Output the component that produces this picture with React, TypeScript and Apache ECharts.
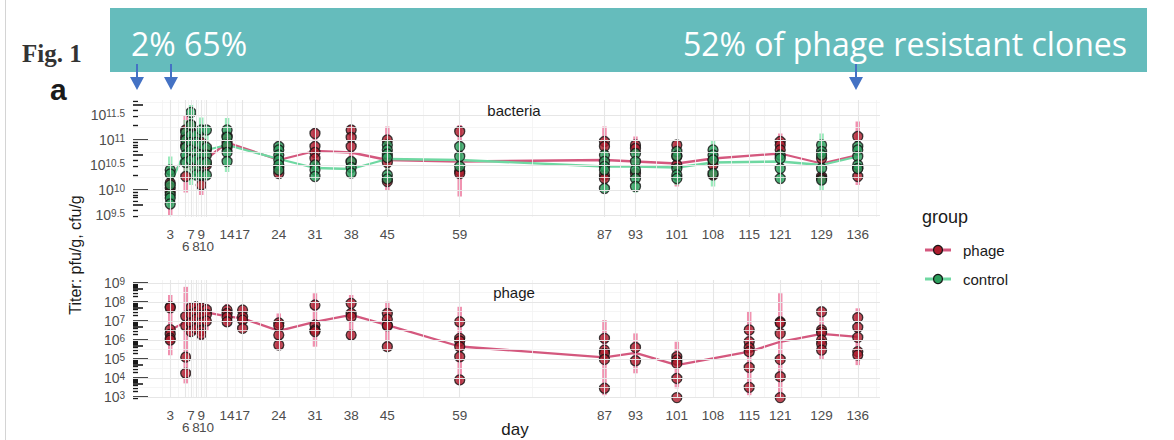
import React, { useEffect, useRef } from "react";
import * as echarts from "echarts";

// ---------- axis breaks / tick labels ----------
const dayBreaks = [3, 6, 7, 8, 9, 10, 14, 17, 24, 31, 38, 45, 59, 87, 93, 101, 108, 115, 121, 129, 136];
const secondRowDays = [6, 8, 10];
const bacteriaTickLabels = [9.5, 10, 10.5, 11, 11.5];
const phageTickLabels = [3, 4, 5, 6, 7, 8, 9];

// ---------- bacteria panel (log10 cfu/g) : individual samples ----------
const bacteriaPhagePoints: [number, number[]][] = [
  [3, [10.14, 10.04, 9.95]],
  [6, [11.2, 11.05, 10.9, 10.27]],
  [7, [11.3, 11.15, 10.95, 10.75]],
  [8, [11.0, 10.85, 10.5]],
  [9, [10.95, 10.6, 10.1]],
  [10, [10.8, 10.5]],
  [14, [11.07, 10.95, 10.85]],
  [24, [10.45, 10.33]],
  [31, [11.13, 10.87, 10.75, 10.63]],
  [38, [11.2, 11.05, 10.87, 10.55]],
  [45, [11.0, 10.55, 10.17]],
  [59, [11.17, 10.38, 10.33]],
  [87, [10.97, 10.87, 10.3, 10.23]],
  [93, [10.9, 10.83, 10.33]],
  [101, [10.9, 10.67, 10.5]],
  [108, [10.6, 10.5, 10.3]],
  [121, [10.97, 10.9, 10.8]],
  [129, [10.63, 10.27, 10.23]],
  [136, [11.07, 10.43, 10.27]],
];
const bacteriaControlPoints: [number, number[]][] = [
  [3, [10.4, 10.32, 10.1, 9.9, 9.84, 9.72]],
  [6, [11.15, 11.0, 10.85, 10.7, 10.55]],
  [7, [11.55, 11.3, 11.1, 10.95, 10.8, 10.6]],
  [8, [11.1, 10.95, 10.75, 10.6, 10.4, 10.3]],
  [9, [11.2, 10.9, 10.7, 10.55, 10.3]],
  [10, [11.2, 10.85, 10.7, 10.55, 10.3]],
  [14, [11.2, 11.05, 10.9, 10.75, 10.57]],
  [24, [10.87, 10.8, 10.7, 10.6, 10.5, 10.4]],
  [31, [10.5, 10.4, 10.27]],
  [38, [10.57, 10.45, 10.34]],
  [45, [10.9, 10.8, 10.72, 10.65, 10.3, 10.22]],
  [59, [10.87, 10.67, 10.47]],
  [87, [10.7, 10.57, 10.47, 10.4, 10.03]],
  [93, [10.73, 10.57, 10.4, 10.23, 10.07]],
  [101, [10.77, 10.68, 10.43, 10.3, 10.23]],
  [108, [10.8, 10.7, 10.6, 10.33]],
  [121, [10.7, 10.63, 10.43, 10.23]],
  [129, [10.9, 10.77, 10.7, 10.43, 10.2]],
  [136, [10.87, 10.8, 10.67, 10.5, 10.43]],
];
const bacteriaPhageMean: [number, number][] = [
  [3, 10.22], [6, 10.7], [7, 10.9], [8, 10.8], [9, 10.6], [10, 10.62], [14, 10.95], [24, 10.6],
  [31, 10.78], [38, 10.75], [45, 10.6], [59, 10.57], [87, 10.6], [93, 10.57], [101, 10.53],
  [108, 10.63], [121, 10.73], [129, 10.53], [136, 10.7],
];
const bacteriaControlMean: [number, number][] = [
  [3, 10.12], [6, 10.8], [7, 11.0], [8, 10.75], [9, 10.7], [10, 10.8], [14, 10.9], [24, 10.62],
  [31, 10.44], [38, 10.42], [45, 10.62], [59, 10.6], [87, 10.47], [93, 10.47], [101, 10.45],
  [108, 10.55], [121, 10.57], [129, 10.5], [136, 10.67],
];
const bacteriaPhageRange: [number, number, number][] = [
  [3, 9.5, 10.5], [6, 9.95, 11.5], [7, 10.4, 11.4], [8, 10.3, 11.2], [9, 9.9, 11.1], [10, 10.3, 11.0],
  [14, 10.6, 11.2], [24, 10.24, 10.97], [31, 10.5, 11.24], [38, 10.45, 11.3], [45, 10.0, 11.27],
  [59, 9.87, 11.3], [87, 10.1, 11.27], [93, 10.3, 11.07], [101, 10.07, 11.0], [108, 10.2, 10.8],
  [121, 10.6, 11.13], [129, 10.1, 10.75], [136, 10.1, 11.37],
];
const bacteriaControlRange: [number, number, number][] = [
  [3, 9.65, 10.67], [6, 10.3, 11.4], [7, 10.1, 11.7], [8, 10.2, 11.2], [9, 10.0, 11.45], [10, 10.2, 11.3],
  [14, 10.36, 11.44], [24, 10.3, 10.95], [31, 10.2, 10.62], [38, 10.25, 10.65], [45, 10.15, 11.05],
  [59, 10.3, 10.95], [87, 10.0, 10.85], [93, 9.95, 10.85], [101, 10.1, 10.9], [108, 10.07, 11.0],
  [121, 10.15, 10.8], [129, 10.0, 11.13], [136, 10.3, 11.0],
];

// ---------- phage panel (log10 pfu/g) ----------
const phagePoints: [number, number[]][] = [
  [3, [7.75, 7.7, 6.55, 6.3, 6.1, 6.0]],
  [6, [7.25, 6.75, 5.1, 4.25]],
  [7, [7.7, 7.35, 6.9, 6.45]],
  [8, [7.75, 7.45, 7.1, 6.6]],
  [9, [7.7, 7.3, 6.9, 6.5, 6.3]],
  [10, [7.6, 7.35, 7.0]],
  [14, [7.58, 7.4, 7.2, 6.96]],
  [17, [7.58, 7.23, 7.05, 6.61]],
  [24, [6.9, 6.75, 6.26, 5.74]],
  [31, [7.84, 6.79, 6.53, 6.45]],
  [38, [7.93, 7.4, 7.23, 6.26]],
  [45, [7.4, 7.1, 6.79, 6.75, 5.65]],
  [59, [6.96, 6.09, 5.95, 5.65, 5.12, 3.9]],
  [87, [6.09, 5.47, 5.3, 4.98, 3.46]],
  [93, [5.61, 4.91]],
  [101, [5.12, 4.95, 4.77, 3.98, 2.97]],
  [115, [6.53, 5.91, 5.6, 5.39, 4.56, 3.51]],
  [121, [6.96, 6.9, 6.35, 4.98, 4.07, 2.97]],
  [129, [7.49, 6.53, 6.4, 6.0, 5.8, 5.47]],
  [136, [7.18, 6.67, 6.14, 5.39, 5.21]],
];
const phageMean: [number, number][] = [
  [3, 6.53], [6, 6.95], [7, 7.3], [8, 7.4], [9, 7.35], [10, 7.45], [14, 7.25], [17, 7.14], [24, 6.48],
  [31, 6.96], [38, 7.32], [45, 6.79], [59, 5.66], [87, 5.09], [93, 5.33], [101, 4.68], [115, 5.39],
  [121, 5.91], [129, 6.32], [136, 6.17],
];
const phageRange: [number, number, number][] = [
  [3, 5.2, 8.37], [6, 3.72, 8.8], [7, 6.2, 7.95], [8, 6.3, 8.0], [9, 6.0, 7.95], [10, 6.5, 7.9],
  [14, 6.7, 7.9], [17, 6.5, 7.75], [24, 5.47, 7.4], [31, 5.65, 8.46], [38, 6.0, 8.37], [45, 5.47, 8.02],
  [59, 3.63, 7.75], [87, 3.1, 7.05], [93, 4.25, 6.35], [101, 3.46, 5.91], [115, 3.1, 7.49],
  [121, 2.95, 8.46], [129, 4.95, 7.75], [136, 4.68, 7.67],
];

// ---------- styling ----------
const FONT = "'Liberation Sans', Arial, sans-serif";
const TEXT = "#1a1a1a";
const AXIS_TEXT = "#4d4d4d";
const PHAGE_FILL = "#ad1d2d";
const CONTROL_FILL = "#2c9e5c";
const PHAGE_LINE = "#d4587e";
const CONTROL_LINE = "#6fd8a2";
const PHAGE_BAR = "rgba(233, 76, 126, 0.62)";
const CONTROL_BAR = "rgba(90, 222, 145, 0.62)";

const X_MIN = -4.2;
const X_MAX = 140.3;
const TOP_MIN = 9.46;
const TOP_MAX = 11.8;
const BOT_MIN = 2.95;
const BOT_MAX = 9.16;

const flat = (g: [number, number[]][]) => g.flatMap(([d, vs]) => vs.map((v) => [d, v]));

const mids = (arr: number[]) => arr.slice(1).map((v, i) => (v + arr[i]) / 2);

function logTicks(min: number, max: number, ks: number[]) {
  const out: number[] = [];
  for (let n = Math.floor(min); n <= Math.ceil(max); n++) {
    for (const k of ks) {
      const v = n + Math.log10(k);
      if (v >= min && v <= max) out.push(v);
    }
  }
  return out;
}

export default function App() {
  const ref = useRef<HTMLDivElement>(null);

  useEffect(() => {
    if (!ref.current) return;
    const chart = echarts.init(ref.current, undefined, { renderer: "svg" });

    const xMinor = [dayBreaks[0] - 1.5, ...mids(dayBreaks), dayBreaks[dayBreaks.length - 1] + 3.5];
    const topMinorY = [...mids(bacteriaTickLabels), 11.75];
    const botMinorY = mids(phageTickLabels);

    const xAxisFor = (gridIndex: number) => ({
      type: "value",
      gridIndex,
      min: X_MIN,
      max: X_MAX,
      axisLine: { show: false, onZero: false },
      axisTick: { show: false },
      splitLine: { show: false },
      axisLabel: {
        customValues: dayBreaks,
        formatter: (v: number) => (secondRowDays.includes(v) ? "\n" + v : String(v)),
        margin: 11,
        fontSize: 13.5,
        lineHeight: 12,
        color: AXIS_TEXT,
        fontFamily: FONT,
        hideOverlap: false,
      },
    });

    const supLabel = {
      b: { fontSize: 14, color: AXIS_TEXT, fontFamily: FONT, verticalAlign: "bottom", lineHeight: 14 },
      s: { fontSize: 10, color: AXIS_TEXT, fontFamily: FONT, verticalAlign: "top", lineHeight: 8 },
    };

    const yAxesFor = (gridIndex: number, min: number, max: number, labels: number[]) => {
      const base = {
        type: "value",
        gridIndex,
        min,
        max,
        position: "left",
        offset: 0,
        z: 4,
        axisLine: { show: false, onZero: false },
        splitLine: { show: false },
      };
      return [
        {
          ...base,
          axisTick: {
            show: true,
            inside: true,
            length: 15,
            customValues: logTicks(min, max, [1]),
            lineStyle: { color: "#1a1a1a", width: 1.6 },
          },
          axisLabel: {
            customValues: labels,
            margin: 8,
            hideOverlap: false,
            showMinLabel: true,
            showMaxLabel: true,
            formatter: (v: number) => `{b|10}{s|${v}}`,
            rich: supLabel,
          },
        },
        {
          ...base,
          axisTick: {
            show: true,
            inside: true,
            length: 10,
            customValues: logTicks(min, max, [5]),
            lineStyle: { color: "#1a1a1a", width: 1.6 },
          },
          axisLabel: { show: false },
        },
        {
          ...base,
          axisTick: {
            show: true,
            inside: true,
            length: 5,
            customValues: logTicks(min, max, [2, 3, 4, 6, 7, 8, 9]),
            lineStyle: { color: "#1a1a1a", width: 1.4 },
          },
          axisLabel: { show: false },
        },
      ];
    };

    const gridSeries = (xi: number, yi: number, majorY: number[], minorY: number[]) => ({
      type: "line",
      xAxisIndex: xi,
      yAxisIndex: yi,
      data: [],
      z: 0,
      silent: true,
      markLine: {
        silent: true,
        symbol: ["none", "none"],
        label: { show: false },
        animation: false,
        data: [
          ...xMinor.map((v) => ({ xAxis: v, lineStyle: { color: "#f2f2f2", width: 0.8, type: "solid" } })),
          ...minorY.map((v) => ({ yAxis: v, lineStyle: { color: "#f2f2f2", width: 0.8, type: "solid" } })),
          ...dayBreaks.map((v) => ({ xAxis: v, lineStyle: { color: "#e6e6e6", width: 1.1, type: "solid" } })),
          ...majorY.map((v) => ({ yAxis: v, lineStyle: { color: "#e6e6e6", width: 1.1, type: "solid" } })),
        ],
      },
    });

    const rangeSeries = (data: [number, number, number][], xi: number, yi: number, color: string) => ({
      type: "custom",
      xAxisIndex: xi,
      yAxisIndex: yi,
      z: 1,
      silent: true,
      data,
      encode: { x: 0, y: [1, 2] },
      renderItem: (_p: any, api: any) => {
        const a = api.coord([api.value(0), api.value(1)]);
        const b = api.coord([api.value(0), api.value(2)]);
        return {
          type: "line",
          shape: { x1: a[0], y1: a[1], x2: b[0], y2: b[1] },
          style: { stroke: color, lineWidth: 4.5 },
        };
      },
    });

    const meanSeries = (data: [number, number][], xi: number, yi: number, color: string) => ({
      type: "line",
      xAxisIndex: xi,
      yAxisIndex: yi,
      z: 2,
      silent: true,
      data,
      showSymbol: false,
      lineStyle: { color, width: 2.3 },
    });

    const pointSeries = (data: number[][], xi: number, yi: number, color: string, z: number) => ({
      type: "scatter",
      xAxisIndex: xi,
      yAxisIndex: yi,
      z,
      silent: true,
      data,
      symbolSize: 10,
      itemStyle: { color, borderColor: "#141414", borderWidth: 1.3 },
    });

    const legendItem = (y: number, line: string, fill: string, label: string) => [
      { type: "line", z: 100, shape: { x1: 925, y1: y, x2: 951, y2: y }, style: { stroke: line, lineWidth: 3 } },
      { type: "circle", z: 101, shape: { cx: 938, cy: y, r: 4.5 }, style: { fill, stroke: "#141414", lineWidth: 1.2 } },
      {
        type: "text",
        z: 100,
        x: 963,
        y,
        style: { text: label, fontSize: 15, fill: TEXT, fontFamily: FONT, verticalAlign: "middle" },
      },
    ];

    const arrow = (x: number) => [
      { type: "line", z: 100, shape: { x1: x, y1: 64, x2: x, y2: 78 }, style: { stroke: "#4472c4", lineWidth: 2 } },
      {
        type: "polygon",
        z: 100,
        shape: { points: [[x - 7, 77], [x + 7, 77], [x, 90]] },
        style: { fill: "#4472c4" },
      },
    ];

    const label = (text: string, x: number, y: number, size: number, extra: any = {}) => ({
      type: "text",
      z: 100,
      x,
      y,
      ...extra,
      style: { text, fontSize: size, fill: TEXT, fontFamily: FONT, align: "center", verticalAlign: "middle" },
    });

    chart.setOption({
      animation: false,
      backgroundColor: "#ffffff",
      grid: [
        { left: 133, top: 100, width: 747, height: 117, outerBoundsMode: "none" },
        { left: 133, top: 280, width: 747, height: 118, outerBoundsMode: "none" },
      ],
      xAxis: [xAxisFor(0), xAxisFor(1)],
      yAxis: [
        ...yAxesFor(0, TOP_MIN, TOP_MAX, bacteriaTickLabels),
        ...yAxesFor(1, BOT_MIN, BOT_MAX, phageTickLabels),
      ],
      series: [
        gridSeries(0, 0, bacteriaTickLabels, topMinorY),
        gridSeries(1, 3, phageTickLabels, botMinorY),
        rangeSeries(bacteriaPhageRange, 0, 0, PHAGE_BAR),
        rangeSeries(bacteriaControlRange, 0, 0, CONTROL_BAR),
        rangeSeries(phageRange, 1, 3, PHAGE_BAR),
        meanSeries(bacteriaPhageMean, 0, 0, PHAGE_LINE),
        meanSeries(bacteriaControlMean, 0, 0, CONTROL_LINE),
        meanSeries(phageMean, 1, 3, PHAGE_LINE),
        pointSeries(flat(bacteriaPhagePoints), 0, 0, PHAGE_FILL, 3),
        pointSeries(flat(bacteriaControlPoints), 0, 0, CONTROL_FILL, 4),
        pointSeries(flat(phagePoints), 1, 3, PHAGE_FILL, 3),
      ],
      graphic: [
        { type: "line", z: 100, shape: { x1: 5.5, y1: 0, x2: 5.5, y2: 440 }, style: { stroke: "#d4d4d4", lineWidth: 1 } },
        {
          type: "text",
          z: 100,
          x: 22,
          y: 53,
          style: {
            text: "Fig. 1",
            fontSize: 25,
            fontWeight: "bold",
            fill: "#333333",
            fontFamily: "'Liberation Serif', 'DejaVu Serif', serif",
            verticalAlign: "middle",
          },
        },
        {
          type: "text",
          z: 100,
          x: 50,
          y: 89,
          style: { text: "a", fontSize: 30, fontWeight: "bold", fill: TEXT, fontFamily: FONT, verticalAlign: "middle" },
        },
        { type: "rect", z: 99, shape: { x: 110, y: 8, width: 1037, height: 64 }, style: { fill: "#65bcbc" } },
        {
          type: "text",
          z: 100,
          x: 131,
          y: 43,
          style: { text: "2% 65%", fontSize: 32, fill: "#ffffff", fontFamily: "'Open Sans', sans-serif", verticalAlign: "middle" },
        },
        {
          type: "text",
          z: 100,
          x: 683,
          y: 43,
          style: {
            text: "52% of phage resistant clones",
            fontSize: 32,
            fill: "#ffffff",
            fontFamily: "'Open Sans', sans-serif",
            verticalAlign: "middle",
          },
        },
        ...arrow(137),
        ...arrow(171),
        ...arrow(856),
        label("bacteria", 514, 110, 15),
        label("phage", 514, 292, 15),
        label("day", 515, 429, 17),
        label("Titer: pfu/g, cfu/g", 75, 255, 16, { rotation: Math.PI / 2 }),
        {
          type: "text",
          z: 100,
          x: 922,
          y: 217,
          style: { text: "group", fontSize: 18, fill: TEXT, fontFamily: FONT, verticalAlign: "middle" },
        },
        ...legendItem(250, PHAGE_LINE, PHAGE_FILL, "phage"),
        ...legendItem(279, CONTROL_LINE, CONTROL_FILL, "control"),
      ],
    });

    return () => chart.dispose();
  }, []);

  return <div ref={ref} style={{ position: "absolute", left: 0, top: 0, width: 1174, height: 440 }} />;
}
